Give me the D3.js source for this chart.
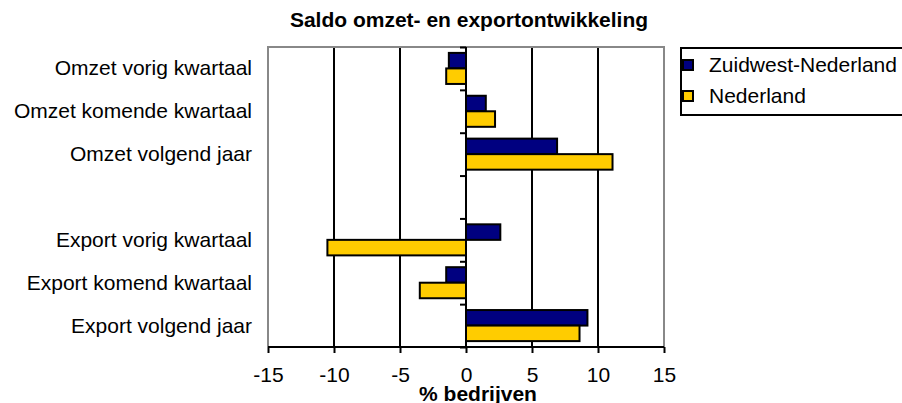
<!DOCTYPE html>
<meta charset="utf-8">
<html>
<head>
<style>
  body { margin: 0; background: #fff; }
  svg { display: block; }
  text { font-family: Arial, "Liberation Sans", sans-serif; }
</style>
<script src="https://d3js.org/d3.v7.min.js"></script>
</head>
<body>
<svg width="902" height="403"></svg>
<script>
// categories (top to bottom), the empty one is the gap between the two groups
var categories = ["Omzet vorig kwartaal", "Omzet komende kwartaal", "Omzet volgend jaar", "",
                  "Export vorig kwartaal", "Export komend kwartaal", "Export volgend jaar"];
var seriesNames = ["Zuidwest-Nederland", "Nederland"];
var zuidwest = [-1.3, 1.5, 6.9, null, 2.6, -1.5, 9.2];
var nederland = [-1.5, 2.2, 11.1, null, -10.5, -3.5, 8.6];
var xTicks = [-15, -10, -5, 0, 5, 10, 15];
var colors = ["#000080", "#FFCC00"];

var plot = {left: 268, right: 664, top: 47, bottom: 347};
var svg = d3.select("svg");

var x = d3.scaleLinear().domain([-15, 15]).range([plot.left, plot.right]);
var y = d3.scaleBand().domain(d3.range(categories.length)).range([plot.top, plot.bottom]);
var inner = d3.scaleBand().domain([0, 1]).range([0, y.bandwidth()]).paddingOuter(0.38);

// vertical gridlines
svg.append("g").selectAll("line")
  .data(xTicks.filter(d => d > -15 && d < 15 && d !== 0))
  .enter().append("line")
  .attr("x1", d => x(d)).attr("x2", d => x(d))
  .attr("y1", plot.top).attr("y2", plot.bottom)
  .attr("stroke", "#000").attr("stroke-width", 2);

// plot frame (gray)
svg.append("path")
  .attr("d", "M" + plot.left + "," + plot.bottom + "V" + plot.top + "H" + plot.right + "V" + plot.bottom)
  .attr("fill", "none").attr("stroke", "#888").attr("stroke-width", 2);

// bars
var rows = [];
categories.forEach((c, i) => {
  [zuidwest[i], nederland[i]].forEach((v, s) => {
    if (v !== null) rows.push({i: i, s: s, v: v});
  });
});
svg.append("g").selectAll("rect")
  .data(rows)
  .enter().append("rect")
  .attr("x", d => x(Math.min(0, d.v)))
  .attr("width", d => Math.abs(x(d.v) - x(0)))
  .attr("y", d => y(d.i) + inner(d.s))
  .attr("height", inner.bandwidth())
  .attr("fill", d => colors[d.s])
  .attr("stroke", "#000").attr("stroke-width", 2);

// y axis on the zero line
var yAxis = d3.axisLeft(d3.scaleLinear().domain([0, categories.length]).range([plot.top, plot.bottom]))
  .tickValues(d3.range(categories.length + 1)).tickSize(6).tickFormat("");
var yg = svg.append("g").attr("transform", "translate(" + x(0) + ",0)").call(yAxis);
yg.selectAll("line, path").attr("stroke", "#000").attr("stroke-width", 2);
yg.select(".domain").attr("d", "M0," + plot.top + "V" + plot.bottom);

// category labels
svg.append("g").selectAll("text")
  .data(categories)
  .enter().append("text")
  .attr("x", 252)
  .attr("y", (d, i) => y(i) + y.bandwidth() / 2 + 7)
  .attr("text-anchor", "end")
  .style("font-size", "21px")
  .text(d => d);

// x axis
var xAxis = d3.axisBottom(x).tickValues(xTicks).tickSize(6).tickPadding(14)
  .tickFormat(d => String(d));
var xg = svg.append("g").attr("transform", "translate(0," + plot.bottom + ")").call(xAxis);
xg.selectAll("line, path").attr("stroke", "#000").attr("stroke-width", 2);
xg.select(".domain").attr("d", "M" + plot.left + ",0H" + plot.right);
xg.selectAll("text").style("font-size", "21px").attr("fill", "#000");
xg.attr("font-family", null);

svg.append("text")
  .attr("x", 478).attr("y", 401)
  .attr("text-anchor", "middle")
  .style("font-size", "21px").style("font-weight", "bold")
  .text("% bedrijven");

// title
svg.append("text")
  .attr("x", 469).attr("y", 27)
  .attr("text-anchor", "middle")
  .style("font-size", "21px").style("font-weight", "bold")
  .text("Saldo omzet- en exportontwikkeling");

// legend
var legend = svg.append("g").attr("transform", "translate(681,48)");
legend.append("rect")
  .attr("x", 0).attr("y", 0).attr("width", 240).attr("height", 67)
  .attr("fill", "#fff").attr("stroke", "#000").attr("stroke-width", 2);
seriesNames.forEach((n, s) => {
  legend.append("rect")
    .attr("x", 2).attr("y", 12 + s * 31).attr("width", 10).attr("height", 10)
    .attr("fill", colors[s]).attr("stroke", "#000").attr("stroke-width", 2);
  legend.append("text")
    .attr("x", 28).attr("y", 24 + s * 31)
    .style("font-size", "21px")
    .text(n);
});
</script>
</body>
</html>
